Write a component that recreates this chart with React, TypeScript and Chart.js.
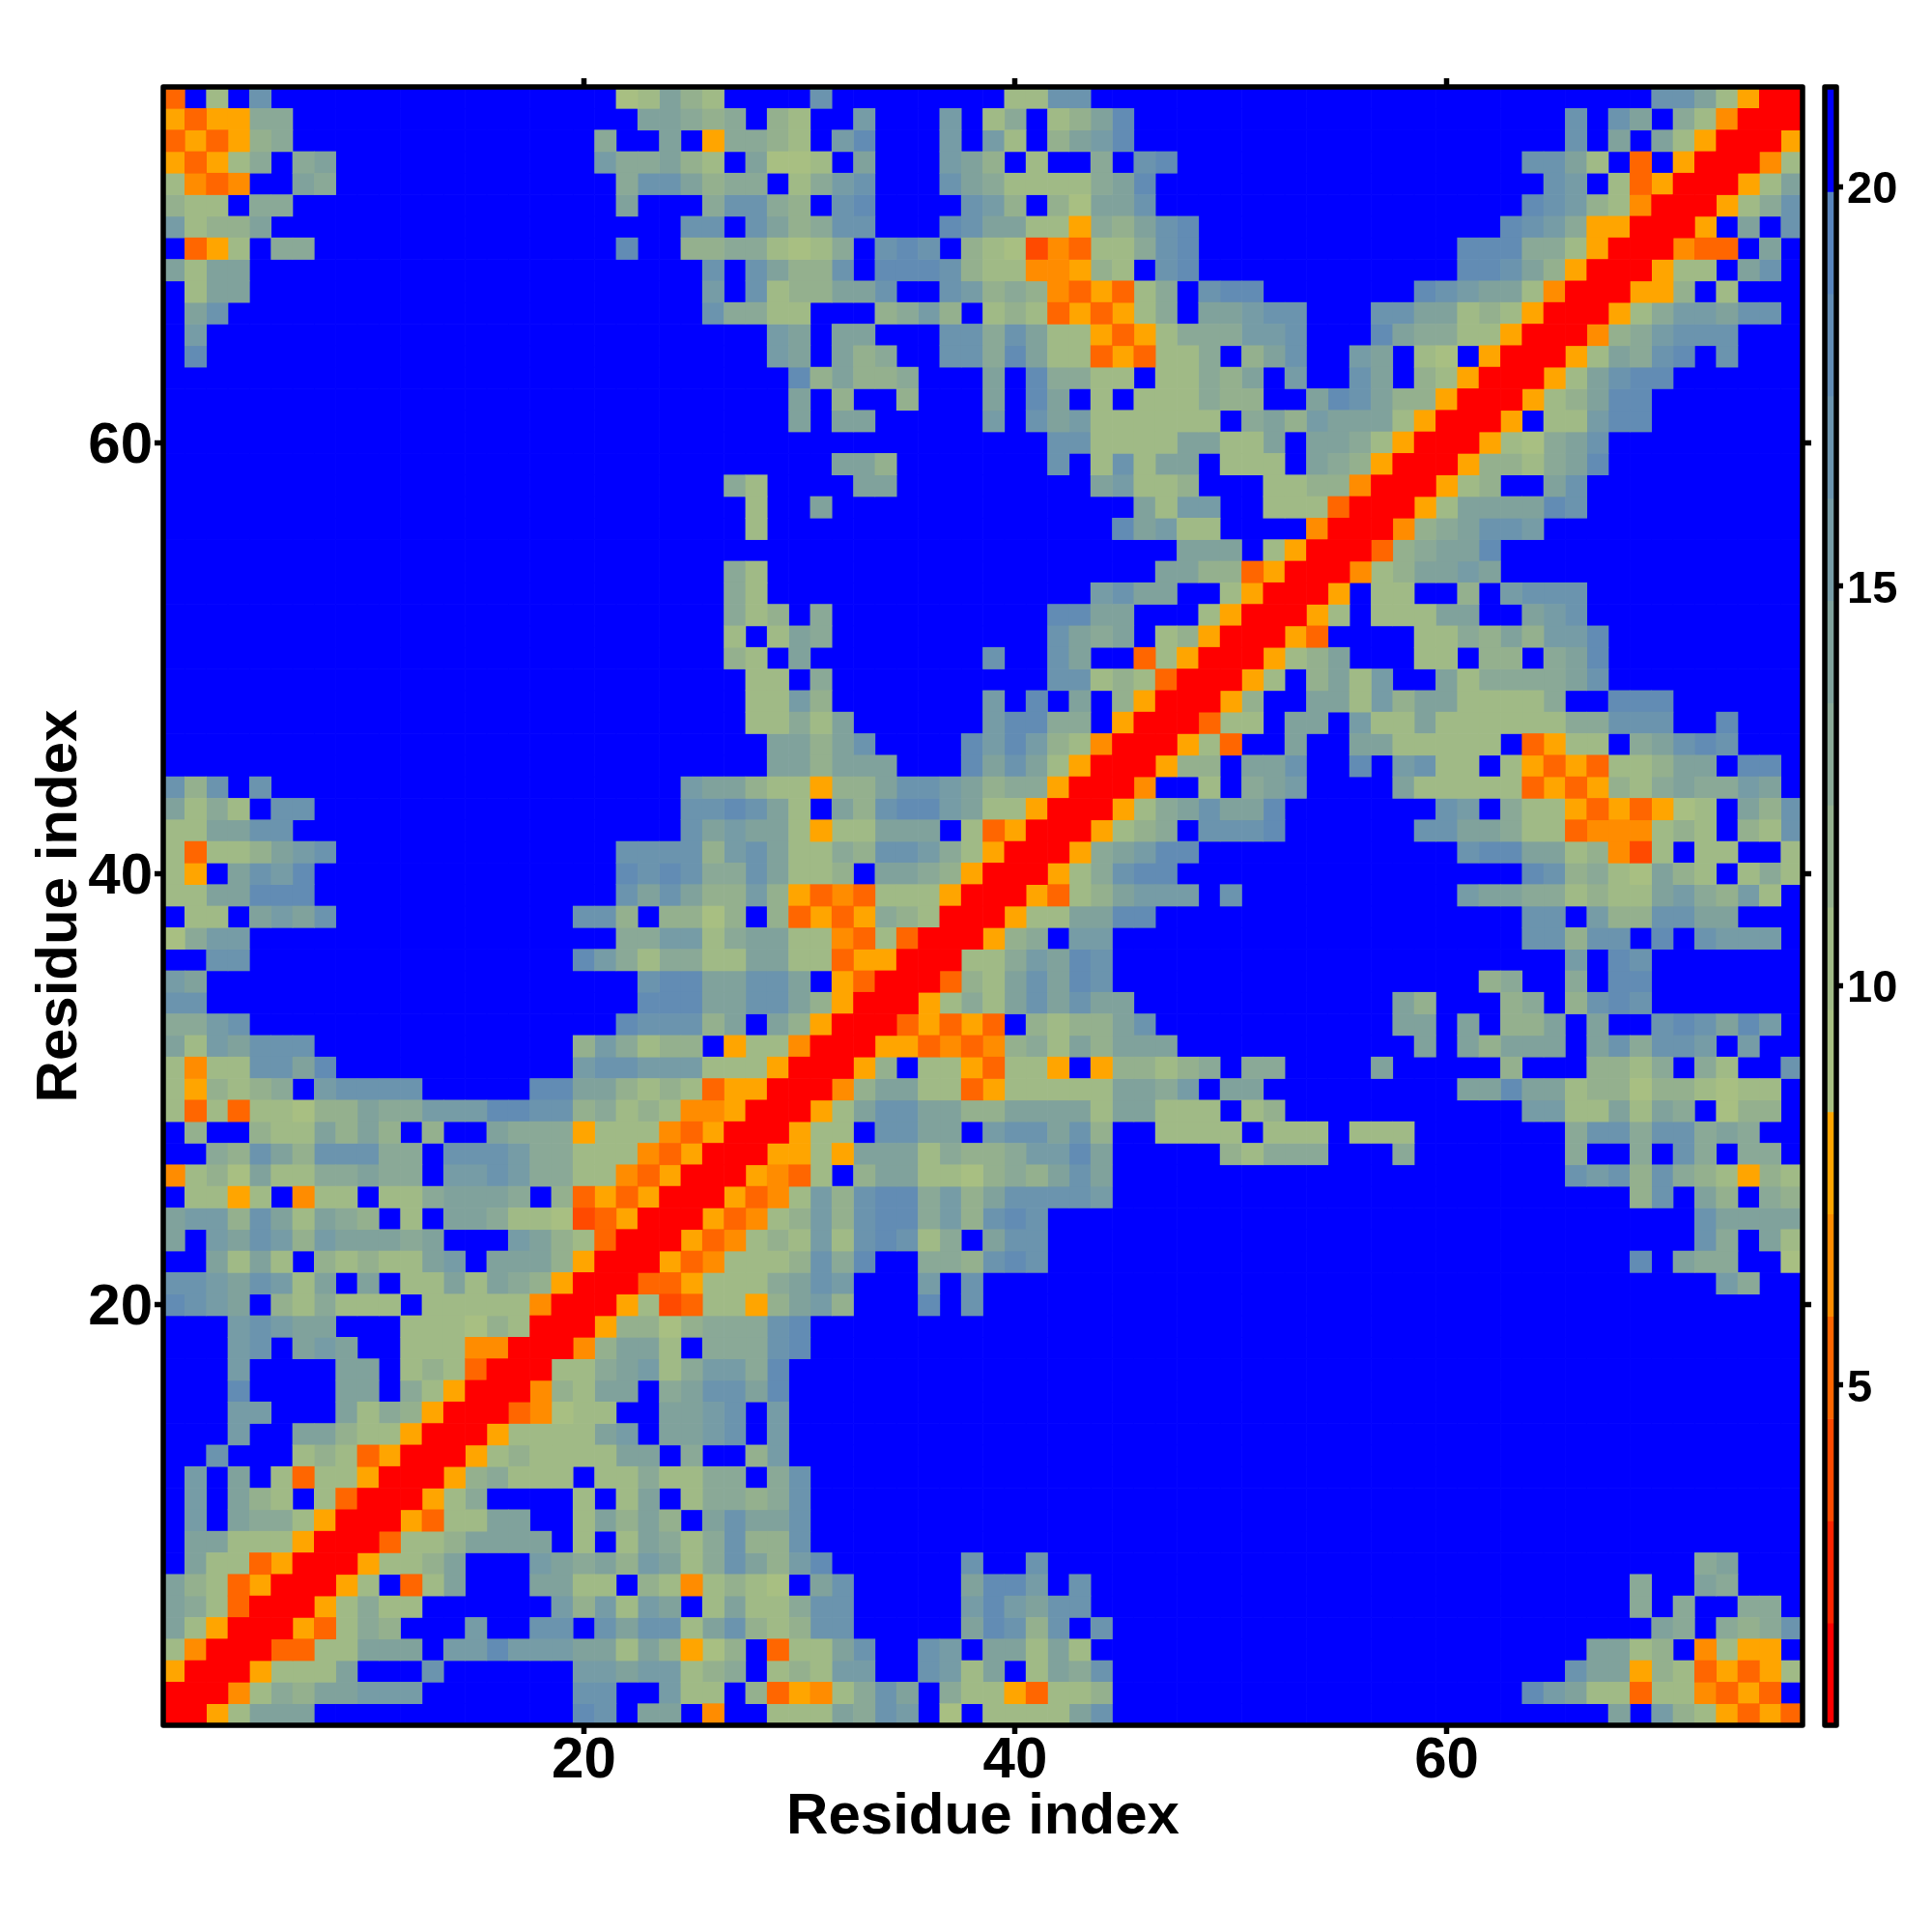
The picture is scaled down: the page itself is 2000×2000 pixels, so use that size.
import React, { useEffect, useRef } from "react";
import { Chart, registerables } from "chart.js";

Chart.register(...registerables);

const axisTicks = [20, 40, 60];
const colorbarTicks = [5, 10, 15, 20];
const axisTitle = "Residue index";

// Colour-bar levels: distance edges (Å) and the colour of each band.
const levelEdges = [0.74, 2.02, 3.3, 4.58, 5.86, 7.14, 8.42, 9.7, 10.98, 12.26, 13.54, 14.82, 16.1, 17.38, 18.66, 19.94, 21.25];
const levelColors = [
  "#ff0000", "#ff2400", "#ff4a00", "#ff6600", "#ff8c00", "#ffa500",
  "#a8bf82", "#a0ba86", "#94b08e", "#8aa997", "#80a29c", "#769ca6",
  "#6b94ae", "#628cb4", "#5884bc", "#0000ff",
];

// Upper-left triangle of the symmetric map, row by row, from residue 76 down to 1.
// Each character is a colour-bar level (hex); "." is the top level (blue).
const mapRows = [
  "3.7.c..... .......... .67a87.... c........7 7cc....... .......... .........c ca7500",
  "535599.... .......... ..aa989.87 ..b...b.79 .78ad..... .......... .....c.ca. 97400",
  "353589.... .......... 9..a.59987 .bd...b.b7 .8abd..... .......... .....c.a.a 7500",
  "53579.9a.. .......... b99a87.a66 7.a...ba8. 7..9.cd... .......... ...cca7.3. 500",
  "7434..a9.. .......... .9cca899.7 9bc...ca97 7779ad.... .......... ....cb.735 00",
  "877.99.... .......... .a...9cc98 .cd....cb8 .86aac.... .......... ...dcb8740 0",
  "b788a..... .......... ....cc.ca8 9cc...dcaa 77598acd.. .......... ..dcb95500",
  ".357.99... .......... .d..889976 79.cdc.876 243779cd.. .......... ddd997500",
  "a7aa...... .......... .....c.ca8 8c.dddc877 44587.cd.. .......... ddca8500",
  ".7aa...... .......... .....b.c78 8aac..cb89 8435379.cd d.......dc baa7400",
  ".ac....... .......... .....c9977 ...89b8.78 7353579.aa bcc...ccaa 787500",
  ".b........ .......... ........ba .aa...cc9c a775357999 bbc...da99 77500",
  ".d........ .......... ........ba .a89..cc9d a77353779. 8ac..ba.76 .500",
  ".......... .......... .........d 8a889...a. d9977.7798 a.b..ca.87 500",
  ".......... .......... .........a .8..8...a. da.7.77798 8..adca885 00",
  ".......... .......... .........a .aa.....b. cab777777. 9a8baaa750 0",
  ".......... .......... .......... .......... .cc7777aa7 7a.aa97500",
  ".......... .......... .......... .aa8...... .c.7c7aa.7 77.a98500",
  ".......... .......... ......97.. ..aa...... ...ab778.. .7788400",
  ".......... .......... .......7.. a......... .....a7bb. .777300",
  ".......... .......... .......7.. .......... ....dab77. ...400",
  ".......... .......... .......... .......... .......aaa .7500",
  ".......... .......... ......97.. .......... ......aa88 3500",
  ".......... .......... ......97.. .......... ...bcaa..7 500",
  ".......... .......... ......978. 9......... .ddaa...75 00",
  ".......... .......... ......7.7a 9......... .ca9a.7850 0",
  ".......... .......... ......87.a ........c. .ca..37500",
  ".......... .......... .......77. 9......... .cc787300",
  ".......... .......... .......77b 8.......b. d.a.8500",
  ".......... .......... .......779 7a......bd d99.500",
  ".......... .......... ........aa 8ac....dbd b87400",
  ".......... .......... ........aa 8aaa...dac a7500",
  "c8c.c..... .......... ....baa877 588accba89 9500",
  "a797.cc... .......... ....ccdca7 .a8cddba77 500",
  "77aacc.... .......... ....cabaa7 577aaa.735 00",
  "73778abc.. .......... .cccc8bca7 798ccb9750 0",
  "75.acbd... .......... .dcdc99ca7 78.aa98500",
  "77aaddd... .......... .caca88b85 343777500",
  ".77.abac.. .........c c8.8868.83 53598700",
  "69bb...... .......... .99bb79aa7 7437300",
  "..cc...... .........d b979977aa7 735500",
  "ba........ .......... ..cddaacca .5300",
  "cc........ .......... ..dddaacca 8500",
  "99bc...... .......... .dccc8a.a8 500",
  "a7baccc... .........8 b9788.5774 00",
  "7477ccad.. .........b ccbbb77750 0",
  "758789.bcc cc.....dda a878735500",
  "737377688a 99bbbddcc8 978744500",
  ".8..877a8a 8.8..a9995 77743500",
  "..98ca8ccc 99.cccb997 7743500",
  "4786a7799a 99.bbcb997 743500",
  ".7757.477. 779aaa9.83 53500",
  "abb8ca7a98 .7.aa97762 3500",
  "a.bacb8baa a9a...ba87 300",
  "..a7a7.878 77ab.aaa85 00",
  "ccbacb7a.a .77a7a9850 0",
  "dcba.87977 7.77777400",
  "...bcbaa.. .77768700",
  "...bc.aba. .7774400",
  "...b....aa .787300",
  "...d....aa .97500",
  "...bb...a7 98500",
  "...b..aa87 7500",
  "..c...7873 500",
  ".b.a.73775 00",
  ".b.a87.730 0",
  ".b.a997500",
  ".aa777500",
  ".a773500",
  "a873500",
  "a97300",
  "a7500",
  "7400",
  "500",
  "00",
  "0",
];

const residueCount = mapRows.length;

function buildCells() {
  const perLevel: { x: number; y: [number, number] }[][] = levelColors.map(() => []);
  mapRows.forEach((text, idx) => {
    const residueY = residueCount - idx;
    const chars = text.replace(/ /g, "");
    for (let col = 1; col <= residueY; col++) {
      const ch = chars[col - 1] ?? ".";
      const level = ch === "." ? 15 : parseInt(ch, 16);
      perLevel[level].push({ x: col, y: [residueY - 0.5, residueY + 0.5] });
      if (col !== residueY) perLevel[level].push({ x: residueY, y: [col - 0.5, col + 0.5] });
    }
  });
  return perLevel;
}

const frame = {
  id: "frame",
  afterDraw(chart: any) {
    const { ctx, chartArea: a } = chart;
    ctx.save();
    ctx.strokeStyle = "#000";
    ctx.lineWidth = 5.5;
    ctx.lineJoin = "round";
    ctx.strokeRect(a.left, a.top, a.right - a.left, a.bottom - a.top);
    ctx.restore();
  },
};

function fixed(size: number) {
  return (scale: any) => {
    if (scale.isHorizontal()) scale.height = size;
    else scale.width = size;
    scale.paddingLeft = scale.paddingRight = scale.paddingTop = scale.paddingBottom = 0;
  };
}

function tickGrid(len: number) {
  return {
    display: true,
    drawOnChartArea: false,
    drawTicks: len > 0,
    offset: false,
    tickLength: len,
    tickWidth: 5.5,
    tickColor: "#000",
    color: "#000",
    z: 1,
  };
}

function axis(opts: {
  position: string; size: number; min: number; max: number; tickValues: number[];
  labels?: any; title?: any; tickLen?: number;
}) {
  const horizontal = opts.position === "top" || opts.position === "bottom";
  return {
    type: "linear",
    axis: horizontal ? "x" : "y",
    position: opts.position,
    offset: false,
    min: opts.min,
    max: opts.max,
    border: { display: false },
    grid: tickGrid(opts.tickLen ?? 9),
    title: opts.title ?? { display: false },
    ticks: opts.labels
      ? { display: true, autoSkip: false, maxRotation: 0, minRotation: 0, color: "#000", z: 1, callback: (v: number) => String(v), ...opts.labels }
      : { display: false, autoSkip: false },
    afterBuildTicks: (scale: any) => {
      scale.ticks = opts.tickValues.map((value) => ({ value }));
    },
    afterFit: fixed(opts.size),
  };
}

const tickFont = { family: "'Liberation Sans', Arial, sans-serif", weight: "bold", size: 60 };
const barTickFont = { family: "'Liberation Sans', Arial, sans-serif", weight: "bold", size: 47 };
const titleFont = { family: "'Liberation Sans', Arial, sans-serif", weight: "bold", size: 60 };

export default function App() {
  const mapRef = useRef<HTMLCanvasElement>(null);
  const barRef = useRef<HTMLCanvasElement>(null);

  useEffect(() => {
    const cells = buildCells();
    const map = new Chart(mapRef.current as HTMLCanvasElement, {
      type: "bar",
      plugins: [frame],
      data: {
        datasets: cells
          .map((data, i) => ({
            data,
            backgroundColor: levelColors[i],
            borderWidth: 0,
            grouped: false,
            barPercentage: 1,
            categoryPercentage: 1,
          }))
          .filter((d) => d.data.length > 0),
      },
      options: {
        animation: false,
        responsive: false,
        devicePixelRatio: 1,
        layout: { padding: 0 },
        plugins: { legend: { display: false }, tooltip: { enabled: false } },
        scales: {
          x: axis({
            position: "bottom", size: 214, min: 0.5, max: 76.5, tickValues: axisTicks,
            labels: { font: tickFont, padding: -8 },
            title: { display: true, text: axisTitle, color: "#000", font: titleFont, padding: { top: 0, bottom: 83 } },
          }),
          x2: axis({ position: "top", size: 90, min: 0.5, max: 76.5, tickValues: axisTicks }),
          y: axis({
            position: "left", size: 169, min: 0.5, max: 76.5, tickValues: axisTicks,
            labels: { font: tickFont, padding: 2, labelOffset: 4 },
            title: { display: true, text: axisTitle, color: "#000", font: titleFont, padding: { top: 26, bottom: 0 } },
          }),
          y2: axis({ position: "right", size: 134, min: 0.5, max: 76.5, tickValues: axisTicks }),
        },
      } as any,
    } as any);

    const bar = new Chart(barRef.current as HTMLCanvasElement, {
      type: "bar",
      plugins: [frame],
      data: {
        datasets: [
          {
            data: levelColors.map((_, i) => ({ x: 0.5, y: [levelEdges[i], levelEdges[i + 1]] })),
            backgroundColor: levelColors,
            borderWidth: 0,
            grouped: false,
            barPercentage: 1,
            categoryPercentage: 1,
          },
        ],
      },
      options: {
        animation: false,
        responsive: false,
        devicePixelRatio: 1,
        layout: { padding: 0 },
        plugins: { legend: { display: false }, tooltip: { enabled: false } },
        scales: {
          x: axis({ position: "bottom", size: 214, min: 0, max: 1, tickValues: [], tickLen: 0 }),
          x2: axis({ position: "top", size: 90, min: 0, max: 1, tickValues: [], tickLen: 0 }),
          y: axis({
            position: "right", size: 99, min: levelEdges[0], max: levelEdges[16], tickValues: colorbarTicks, tickLen: 7,
            labels: { font: barTickFont, padding: 4, labelOffset: 4 },
          }),
          y2: axis({ position: "left", size: 1889, min: levelEdges[0], max: levelEdges[16], tickValues: colorbarTicks, tickLen: 0 }),
        },
      } as any,
    } as any);

    return () => {
      map.destroy();
      bar.destroy();
    };
  }, []);

  const layer: React.CSSProperties = { position: "absolute", left: 0, top: 0 };
  return (
    <div style={{ position: "absolute", left: 0, top: 0, width: 2000, height: 2000, background: "#fff" }}>
      <canvas ref={mapRef} width={2000} height={2000} style={layer} />
      <canvas ref={barRef} width={2000} height={2000} style={layer} />
    </div>
  );
}
